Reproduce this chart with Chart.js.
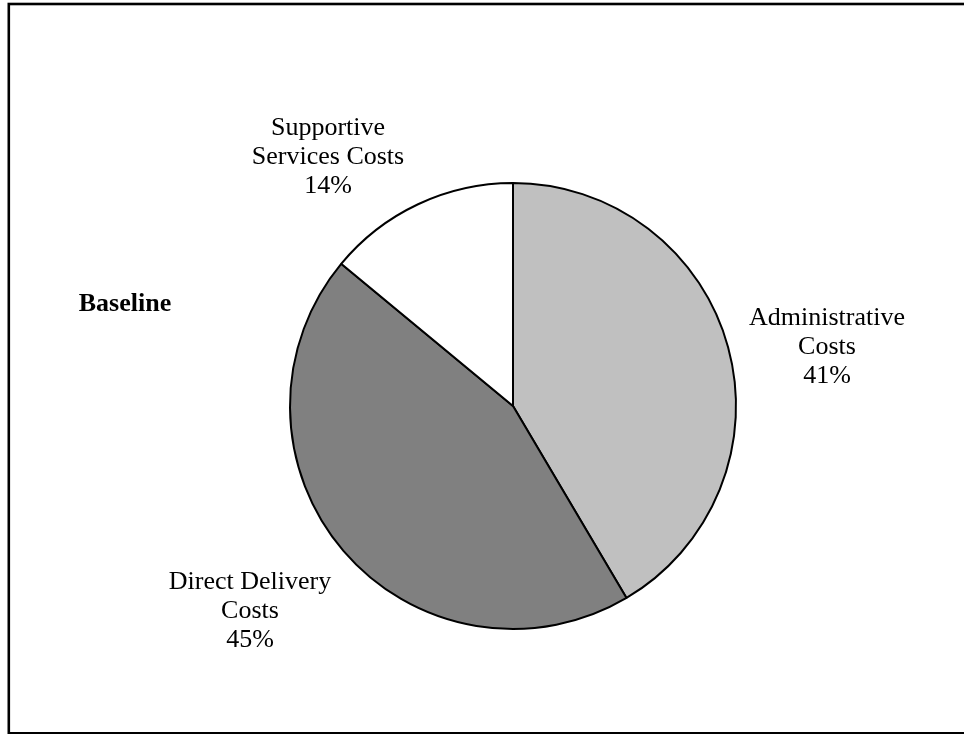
<!DOCTYPE html>
<html>
<head>
<meta charset="utf-8">
<script src="https://cdn.jsdelivr.net/npm/chart.js@4"></script>
<style>
  html, body { margin: 0; padding: 0; background: #fff; }
  #wrap { width: 964px; height: 734px; position: relative; }
</style>
</head>
<body>
<div id="wrap"><canvas id="c" width="964" height="734"></canvas></div>
<script>
const categories = ["Administrative Costs", "Direct Delivery Costs", "Supportive Services Costs"];
const values = [41.5, 44.5, 14];
const percentLabels = ["41%", "45%", "14%"];
const nameLines = [
  ["Administrative", "Costs"],
  ["Direct Delivery", "Costs"],
  ["Supportive", "Services Costs"]
];
const sliceColors = ["#C0C0C0", "#808080", "#FFFFFF"];
const chartTitle = "Baseline";

// label anchor positions (centre of the first line) in canvas pixels
const labelAnchors = [[827, 318], [250, 582], [328, 128]];

const framePlugin = {
  id: 'frame',
  beforeDraw(chart) {
    const ctx = chart.ctx;
    ctx.save();
    ctx.fillStyle = '#fff';
    ctx.fillRect(0, 0, chart.width, chart.height);
    ctx.strokeStyle = '#000';
    ctx.lineWidth = 2.6;
    ctx.strokeRect(8.8, 4, 970, 729.3);
    ctx.restore();
  },
  afterDraw(chart) {
    const ctx = chart.ctx;
    ctx.save();
    ctx.fillStyle = '#000';
    ctx.textAlign = 'center';
    ctx.textBaseline = 'middle';
    ctx.font = '26px "Liberation Serif", "Times New Roman", serif';
    nameLines.forEach((lines, i) => {
      const [x, y] = labelAnchors[i];
      const all = lines.concat([percentLabels[i]]);
      all.forEach((t, j) => ctx.fillText(t, x, y + j * 29));
    });
    ctx.font = 'bold 26px "Liberation Serif", "Times New Roman", serif';
    ctx.fillText(chartTitle, 125, 304);
    ctx.restore();
  }
};

new Chart(document.getElementById('c'), {
  type: 'pie',
  data: {
    labels: categories,
    datasets: [{
      data: values,
      backgroundColor: sliceColors,
      borderColor: '#000',
      borderWidth: 2
    }]
  },
  options: {
    responsive: false,
    animation: false,
    devicePixelRatio: 1,
    layout: { padding: { left: 289, right: 227, top: 182, bottom: 104 } },
    plugins: {
      legend: { display: false },
      tooltip: { enabled: false },
      title: { display: false }
    }
  },
  plugins: [framePlugin]
});
</script>
</body>
</html>
